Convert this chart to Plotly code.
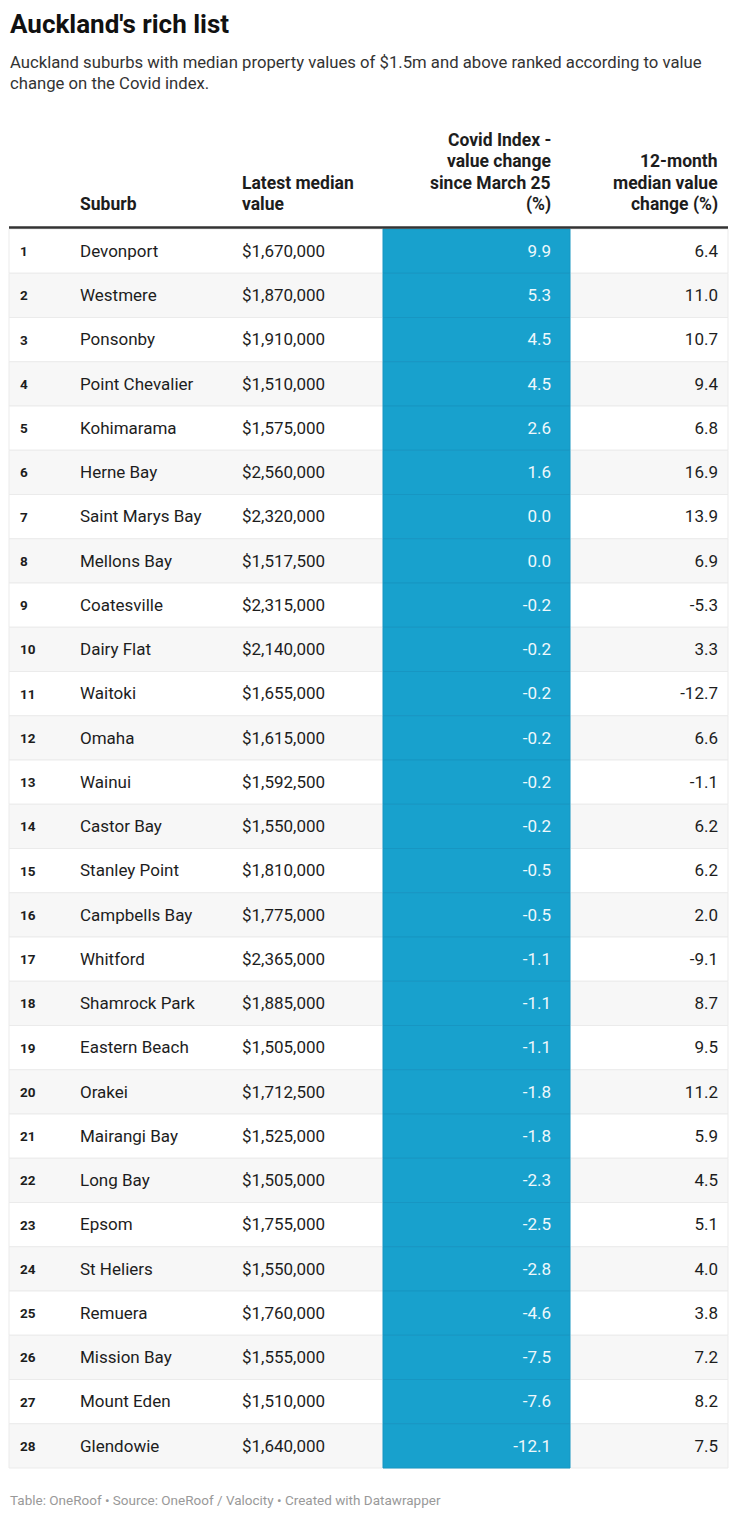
import plotly.graph_objects as go

# Table data
ranks = list(range(1, 29))
suburbs = ['Devonport', 'Westmere', 'Ponsonby', 'Point Chevalier', 'Kohimarama', 'Herne Bay',
           'Saint Marys Bay', 'Mellons Bay', 'Coatesville', 'Dairy Flat', 'Waitoki', 'Omaha',
           'Wainui', 'Castor Bay', 'Stanley Point', 'Campbells Bay', 'Whitford', 'Shamrock Park',
           'Eastern Beach', 'Orakei', 'Mairangi Bay', 'Long Bay', 'Epsom', 'St Heliers',
           'Remuera', 'Mission Bay', 'Mount Eden', 'Glendowie']
median_values = [1670000, 1870000, 1910000, 1510000, 1575000, 2560000, 2320000, 1517500,
                 2315000, 2140000, 1655000, 1615000, 1592500, 1550000, 1810000, 1775000,
                 2365000, 1885000, 1505000, 1712500, 1525000, 1505000, 1755000, 1550000,
                 1760000, 1555000, 1510000, 1640000]
covid_change = [9.9, 5.3, 4.5, 4.5, 2.6, 1.6, 0.0, 0.0, -0.2, -0.2, -0.2, -0.2, -0.2, -0.2,
                -0.5, -0.5, -1.1, -1.1, -1.1, -1.8, -1.8, -2.3, -2.5, -2.8, -4.6, -7.5, -7.6, -12.1]
year_change = [6.4, 11.0, 10.7, 9.4, 6.8, 16.9, 13.9, 6.9, -5.3, 3.3, -12.7, 6.6, -1.1, 6.2,
               6.2, 2.0, -9.1, 8.7, 9.5, 11.2, 5.9, 4.5, 5.1, 4.0, 3.8, 7.2, 8.2, 7.5]

header_lines = [
    (80, 'left', ['Suburb']),
    (242, 'left', ['Latest median', 'value']),
    (551, 'right', ['Covid Index -', 'value change', 'since March 25', '(%)']),
    (718, 'right', ['12-month', 'median value', 'change (%)']),
]

# Layout constants (pixels of the 740x1530 page)
W, H = 740, 1530
PAGE_MARGIN = 8  # the html body margin shifts the plot by this much
ANN_PAD = 2      # annotation box padding
TABLE_LEFT, TABLE_RIGHT = 9, 728
ROW_TOP = 229
ROW_H = 44.25
TEXT_DY = 1.5
BLUE_LEFT, BLUE_RIGHT = 383, 570
FONT = 'Roboto'
TEXT_COLOR = '#1d1d1d'

row_y = [ROW_TOP + (r - 0.5) * ROW_H for r in ranks]

fig = go.Figure()

# striped row backgrounds
fig.add_trace(go.Bar(
    orientation='h', y=row_y, x=[TABLE_RIGHT - TABLE_LEFT] * len(ranks), base=TABLE_LEFT,
    width=ROW_H,
    marker=dict(color=['#ffffff' if r % 2 else '#f7f7f7' for r in ranks],
                line=dict(color='#ebebeb', width=1)),
    hoverinfo='skip', showlegend=False,
))

# highlighted Covid index column
fig.add_trace(go.Bar(
    orientation='h', y=row_y, x=[BLUE_RIGHT - BLUE_LEFT] * len(ranks), base=BLUE_LEFT,
    width=ROW_H,
    marker=dict(color='#18a1cd', line=dict(color='#1796c2', width=1)),
    hoverinfo='skip', showlegend=False,
))


def add_text_column(x, texts, position, size=17, color=TEXT_COLOR, weight='normal'):
    fig.add_trace(go.Scatter(
        x=[x] * len(texts), y=[y + TEXT_DY for y in row_y], mode='text', text=texts,
        textposition=position,
        textfont=dict(family=FONT, size=size, color=color, weight=weight),
        hoverinfo='skip', showlegend=False,
    ))


add_text_column(20, [str(r) for r in ranks], 'middle right', size=13.5, weight='bold')
add_text_column(80, suburbs, 'middle right')
add_text_column(242, ['${:,.0f}'.format(v) for v in median_values], 'middle right')
add_text_column(551, ['{:.1f}'.format(v) for v in covid_change], 'middle left', color='#eef8fc')
add_text_column(718, ['{:.1f}'.format(v) for v in year_change], 'middle left')

# header rule
fig.add_shape(type='line', x0=TABLE_LEFT, x1=TABLE_RIGHT, y0=227.5, y1=227.5,
              line=dict(color='#333333', width=2.5))

header_font = dict(family=FONT, size=17.5, color=TEXT_COLOR, weight='bold')
for hx, align, lines in header_lines:
    shift = -ANN_PAD if align == 'left' else ANN_PAD
    for i, line in enumerate(reversed(lines)):
        fig.add_annotation(x=hx + shift, y=204 - i * 21.3, xref='x', yref='y', text=line,
                           showarrow=False, xanchor=align, yanchor='middle', font=header_font)

# title, subtitle, footer
left = 10 - ANN_PAD
fig.add_annotation(x=left, y=24, xref='x', yref='y', text="Auckland's rich list", showarrow=False,
                   xanchor='left', yanchor='middle',
                   font=dict(family=FONT, size=26, color='#111111', weight='bold'))
fig.add_annotation(x=left, y=62.5, xref='x', yref='y',
                   text='Auckland suburbs with median property values of $1.5m and above ranked '
                        'according to value',
                   showarrow=False, xanchor='left', yanchor='middle',
                   font=dict(family=FONT, size=16.7, color='#333333'))
fig.add_annotation(x=left, y=83, xref='x', yref='y', text='change on the Covid index.',
                   showarrow=False, xanchor='left', yanchor='middle',
                   font=dict(family=FONT, size=16.7, color='#333333'))
fig.add_annotation(x=left, y=1500, xref='x', yref='y',
                   text='Table: OneRoof • Source: OneRoof / Valocity • Created with Datawrapper',
                   showarrow=False, xanchor='left', yanchor='middle',
                   font=dict(family=FONT, size=13.5, color='#999999'))

fig.update_layout(
    width=W - PAGE_MARGIN, height=H - PAGE_MARGIN,
    margin=dict(l=0, r=0, t=0, b=0),
    paper_bgcolor='white', plot_bgcolor='white',
    barmode='overlay',
    xaxis=dict(range=[PAGE_MARGIN, W], visible=False, fixedrange=True),
    yaxis=dict(range=[H, PAGE_MARGIN], visible=False, fixedrange=True),
)

fig.write_html('out.html')
